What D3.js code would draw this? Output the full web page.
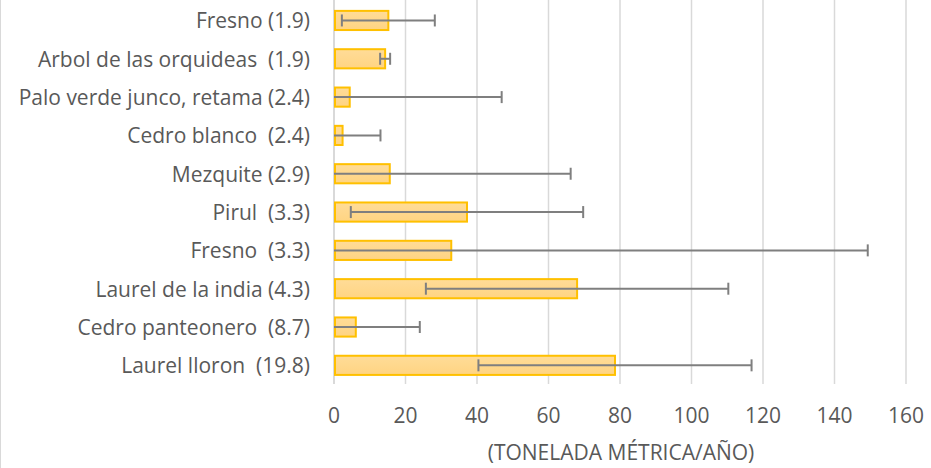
<!DOCTYPE html>
<html><head><meta charset="utf-8">
<script src="https://cdn.jsdelivr.net/npm/d3@7"></script>
<style>
html,body{margin:0;padding:0;background:#fff;}
svg{display:block;}
text{font-family:"Open Sans",Lato,sans-serif;fill:#595959;}
</style></head>
<body>
<svg id="chart" width="931" height="468"></svg>
<script>
const categories = [
  "Fresno (1.9)",
  "Arbol de las orquideas  (1.9)",
  "Palo verde junco, retama (2.4)",
  "Cedro blanco  (2.4)",
  "Mezquite (2.9)",
  "Pirul  (3.3)",
  "Fresno  (3.3)",
  "Laurel de la india (4.3)",
  "Cedro panteonero  (8.7)",
  "Laurel lloron  (19.8)"
];
const values = [15.2, 14.3, 4.4, 2.4, 15.6, 37.2, 32.8, 68.0, 6.1, 78.6];
const errors = [13.0, 1.4, 42.5, 10.6, 50.6, 32.5, 116.5, 42.3, 17.9, 38.2];
const xTicks = [0, 20, 40, 60, 80, 100, 120, 140, 160];
const axisTitle = "(TONELADA MÉTRICA/AÑO)";

const svg = d3.select("#chart");
const x = d3.scaleLinear().domain([0, 160]).range([334, 906]);
const y = d3.scaleBand().domain(categories).range([1.3, 384.5]).paddingInner(0.5).paddingOuter(0.25);

svg.append("line").attr("x1", 0.5).attr("x2", 0.5).attr("y1", 0).attr("y2", 468)
  .attr("stroke", "#d9d9d9").attr("stroke-width", 1);

svg.append("g").selectAll("line").data(xTicks).join("line")
  .attr("x1", d => x(d)).attr("x2", d => x(d))
  .attr("y1", 0).attr("y2", 384)
  .attr("stroke", "#d9d9d9").attr("stroke-width", d => d === 0 ? 2 : 1.5);

const defs = svg.append("defs");
const grad = defs.append("linearGradient").attr("id", "barGrad").attr("x1", 0).attr("y1", 0).attr("x2", 0).attr("y2", 1);
grad.append("stop").attr("offset", "0%").attr("stop-color", "#ffdc98");
grad.append("stop").attr("offset", "100%").attr("stop-color", "#ffd482");

svg.append("g").selectAll("rect").data(categories).join("rect")
  .attr("x", x(0) + 1)
  .attr("y", d => y(d))
  .attr("width", (d, i) => x(values[i]) - x(0) - 1)
  .attr("height", y.bandwidth())
  .attr("fill", "url(#barGrad)")
  .attr("stroke", "#ffc000").attr("stroke-width", 2);

const eg = svg.append("g").attr("stroke", "#7f7f7f").attr("stroke-width", 2);
categories.forEach((c, i) => {
  const cy = y(c) + y.bandwidth() / 2;
  const lo = values[i] - errors[i], hi = values[i] + errors[i];
  const x0 = x(Math.max(0, lo)), x1 = x(hi);
  eg.append("line").attr("x1", x0).attr("x2", x1).attr("y1", cy).attr("y2", cy);
  eg.append("line").attr("x1", x1).attr("x2", x1).attr("y1", cy - 6).attr("y2", cy + 6);
  if (lo >= 0) eg.append("line").attr("x1", x0).attr("x2", x0).attr("y1", cy - 6).attr("y2", cy + 6);
});

svg.append("g").selectAll("text").data(categories).join("text")
  .attr("x", 310).attr("y", d => y(d) + y.bandwidth() / 2)
  .attr("text-anchor", "end").attr("dominant-baseline", "central")
  .style("white-space", "pre").attr("font-size", 21)
  .text(d => d);

svg.append("g").selectAll("text").data(xTicks).join("text")
  .attr("x", d => x(d)).attr("y", 415)
  .attr("text-anchor", "middle").attr("dominant-baseline", "central")
  .attr("font-size", 21)
  .text(d => d);

svg.append("text").attr("x", 621).attr("y", 452)
  .attr("text-anchor", "middle").attr("dominant-baseline", "central")
  .attr("font-size", 21).text(axisTitle);
</script>
</body></html>
